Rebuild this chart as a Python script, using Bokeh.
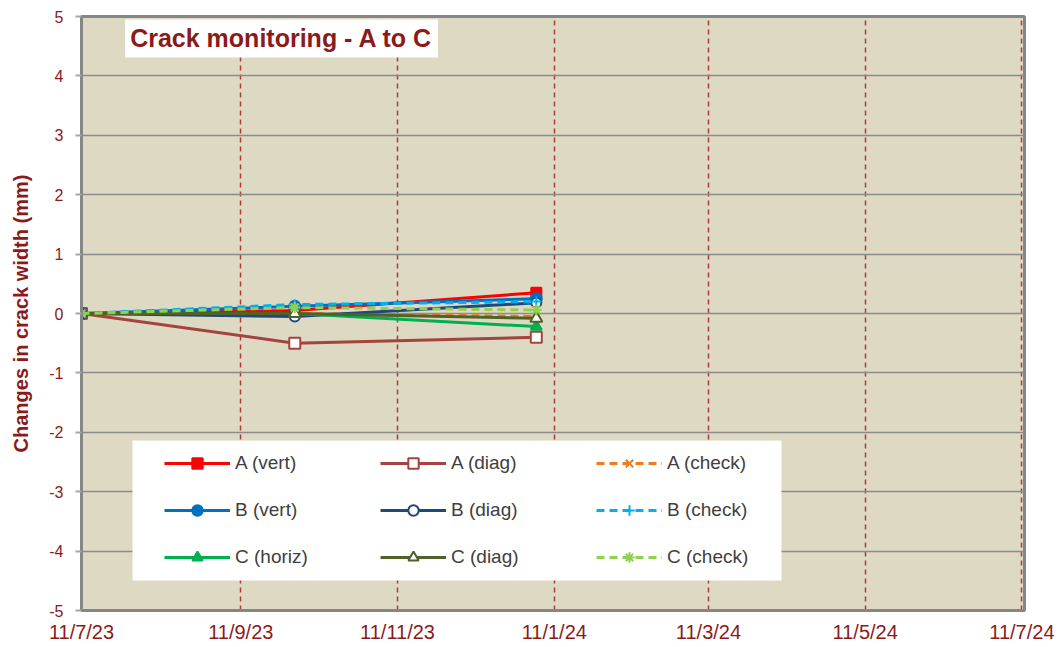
import pandas as pd
from bokeh.plotting import figure
from bokeh.models import (FixedTicker, Legend, LegendItem, Label, Range1d,
                          ColumnDataSource, BoxAnnotation)
from bokeh.embed import file_html
from bokeh.resources import INLINE

# ---------------- data ----------------
dates = ["2023-07-11", "2023-10-02", "2024-01-04"]
a_vert = [0.0, 0.05, 0.35]
a_diag = [0.0, -0.50, -0.40]
a_check = [0.0, 0.00, -0.05]
b_vert = [0.0, 0.12, 0.25]
b_diag = [0.0, -0.05, 0.18]
b_check = [0.0, 0.15, 0.20]
c_horiz = [0.0, 0.00, -0.22]
c_diag = [0.0, 0.00, -0.08]
c_check = [0.0, 0.10, 0.06]

series_names = ["A (vert)", "A (diag)", "A (check)",
                "B (vert)", "B (diag)", "B (check)",
                "C (horiz)", "C (diag)", "C (check)"]

x_tick_dates = ["2023-07-11", "2023-09-11", "2023-11-11", "2024-01-11",
                "2024-03-11", "2024-05-11", "2024-07-11"]
x_tick_labels = ["11/7/23", "11/9/23", "11/11/23", "11/1/24",
                 "11/3/24", "11/5/24", "11/7/24"]
y_ticks = [-5, -4, -3, -2, -1, 0, 1, 2, 3, 4, 5]
y_tick_labels = ["-5", "-4", "-3", "-2", "-1", "0", "1", "2", "3", "4", "5"]

chart_title = "Crack monitoring - A to C"
y_title = "Changes in crack width (mm)"

# ---------------- styles ----------------
MAROON = "#8B1A1A"
FONT = "Liberation Sans"

styles = {
    "A (vert)":  dict(color="#FF0000", dash="solid", marker="square", fill="#FF0000", size=10),
    "A (diag)":  dict(color="#A5443F", dash="solid", marker="square", fill="white", size=11),
    "A (check)": dict(color="#F07A1E", dash="8 5", marker="x", fill="#F07A1E", size=9),
    "B (vert)":  dict(color="#0070C0", dash="solid", marker="circle", fill="#0070C0", size=11),
    "B (diag)":  dict(color="#1F497D", dash="solid", marker="circle", fill="white", size=10),
    "B (check)": dict(color="#00B0F0", dash="8 5", marker="cross", fill="#00B0F0", size=10),
    "C (horiz)": dict(color="#00B050", dash="solid", marker="triangle", fill="#00B050", size=11),
    "C (diag)":  dict(color="#4F6228", dash="solid", marker="triangle", fill="white", size=12),
    "C (check)": dict(color="#92D050", dash="8 5", marker="asterisk", fill="#92D050", size=11),
}
values = {
    "A (vert)": a_vert, "A (diag)": a_diag, "A (check)": a_check,
    "B (vert)": b_vert, "B (diag)": b_diag, "B (check)": b_check,
    "C (horiz)": c_horiz, "C (diag)": c_diag, "C (check)": c_check,
}

def ms(d):
    return pd.Timestamp(d).value // 10**6

x_dates = pd.to_datetime(dates)
tick_ms = [ms(d) for d in x_tick_dates]

p = figure(width=1057, height=645, x_axis_type="datetime",
           output_backend="svg", toolbar_location=None,
           x_range=Range1d(ms("2023-07-11"), ms("2024-07-12")),
           y_range=Range1d(-5, 5),
           min_border_left=81, min_border_right=33,
           min_border_top=16, min_border_bottom=35)

p.background_fill_color = "#DDD9C3"
p.border_fill_color = "white"
p.outline_line_color = "#868686"
p.outline_line_width = 3

# x axis
xt = FixedTicker(ticks=tick_ms, minor_ticks=[])
p.xaxis.ticker = xt
p.xaxis.major_label_overrides = {t: lab for t, lab in zip(tick_ms, x_tick_labels)}
p.xaxis.major_label_text_font = FONT
p.xaxis.major_label_text_font_size = "20px"
p.xaxis.major_label_text_color = MAROON
p.xaxis.major_label_standoff = 10
p.xaxis.major_tick_out = 0
p.xaxis.major_tick_in = 0
p.xaxis.minor_tick_out = 0
p.xaxis.minor_tick_in = 0
p.xaxis.axis_line_color = "#868686"
p.xaxis.axis_line_width = 3

# y axis
yt = FixedTicker(ticks=y_ticks, minor_ticks=[])
p.yaxis.ticker = yt
p.yaxis.major_label_overrides = {t: lab for t, lab in zip(y_ticks, y_tick_labels)}
p.yaxis.major_label_text_font = FONT
p.yaxis.major_label_text_font_size = "16px"
p.yaxis.major_label_text_color = MAROON
p.yaxis.major_label_standoff = 12
p.yaxis.major_tick_out = 6
p.yaxis.major_tick_in = 0
p.yaxis.major_tick_line_color = "#A6A6A6"
p.yaxis.major_tick_line_width = 2
p.yaxis.minor_tick_out = 0
p.yaxis.minor_tick_in = 0
p.yaxis.axis_line_color = "#868686"
p.yaxis.axis_line_width = 3
p.yaxis.axis_label = y_title
p.yaxis.axis_label_text_font = FONT
p.yaxis.axis_label_text_font_size = "20px"
p.yaxis.axis_label_text_font_style = "bold"
p.yaxis.axis_label_text_color = MAROON
p.yaxis.axis_label_standoff = 14

# grids
p.xgrid.ticker = xt
p.xgrid.grid_line_color = "#B03A3A"
p.xgrid.grid_line_width = 1.5
p.xgrid.grid_line_dash = "5 4"
p.ygrid.ticker = yt
p.ygrid.grid_line_color = "#8C8C8C"
p.ygrid.grid_line_width = 1.5

# series
renderers = {}
for name in series_names:
    st = styles[name]
    src = ColumnDataSource(dict(x=x_dates, y=values[name]))
    rl = p.line("x", "y", source=src, line_color=st["color"], line_width=3,
                line_dash=st["dash"])
    rs = p.scatter("x", "y", source=src, marker=st["marker"], size=st["size"],
                   line_color=st["color"], fill_color=st["fill"], line_width=2)
    renderers[name] = [rl, rs]

# white panel behind the legend (screen units, frame-relative)
legend_panel = BoxAnnotation(left=51, right=700, bottom=30, top=170,
                             left_units="screen", right_units="screen",
                             bottom_units="screen", top_units="screen",
                             fill_color="white", fill_alpha=1.0,
                             line_color=None)
p.add_layout(legend_panel)

legend_order = ["A (vert)", "B (vert)", "C (horiz)",
                "A (diag)", "B (diag)", "C (diag)",
                "A (check)", "B (check)", "C (check)"]
legend = Legend(items=[LegendItem(label=n, renderers=renderers[n]) for n in legend_order],
                location=(73, 30), orientation="vertical", nrows=3,
                glyph_width=66, glyph_height=26, label_height=26,
                label_standoff=5, spacing=21, padding=10, label_width=124,
                margin=0,
                label_text_font=FONT, label_text_font_size="19px",
                label_text_color="#404040",
                background_fill_alpha=0.0,
                border_line_alpha=0)
p.add_layout(legend)

title_lbl = Label(x=ms("2023-07-28"), y=4.63, text=chart_title,
                  text_font=FONT, text_font_size="25px", text_font_style="bold",
                  text_color=MAROON, text_align="left", text_baseline="middle",
                  background_fill_color="white", background_fill_alpha=1.0,
                  padding=5)
p.add_layout(title_lbl)

open("out.html", "w").write(file_html(p, INLINE))
